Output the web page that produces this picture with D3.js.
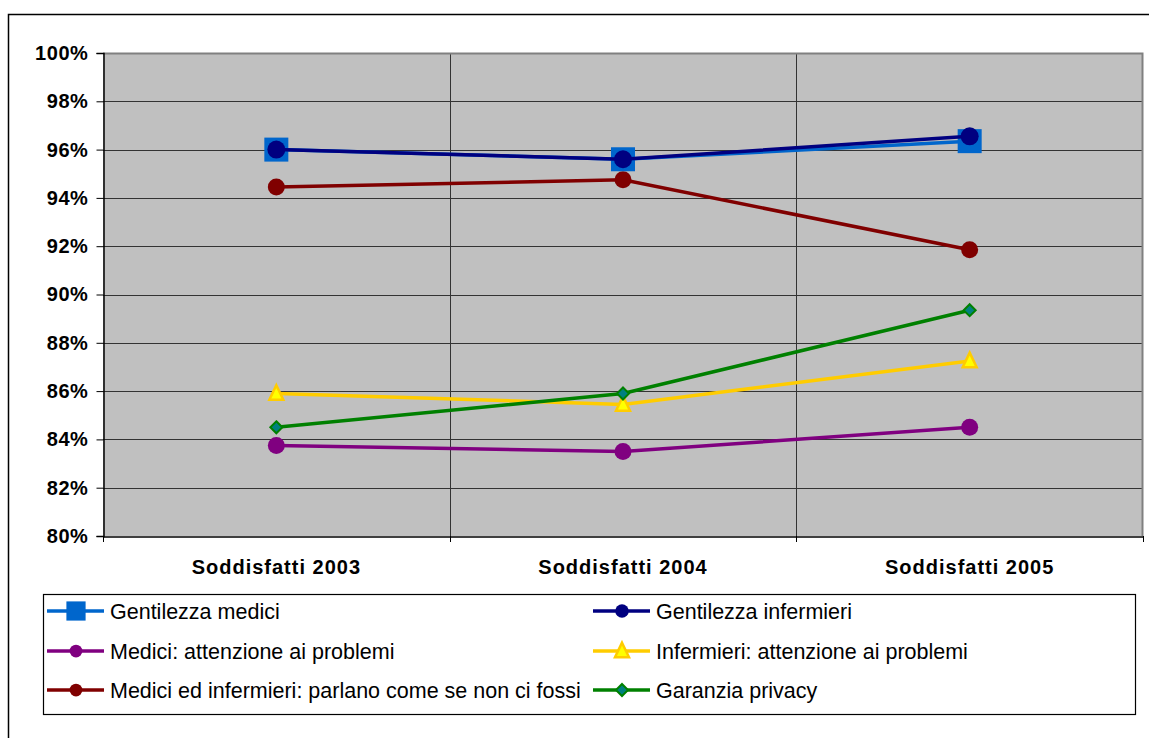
<!DOCTYPE html>
<html>
<head>
<meta charset="utf-8">
<script src="https://cdn.jsdelivr.net/npm/d3@7"></script>
<style>
  body { margin: 0; background: #fff; }
  svg text { font-family: "Liberation Sans", Arial, sans-serif; }
</style>
</head>
<body>
<div id="chart"></div>
<script>
// categories and values (percent)
var categories = ["Soddisfatti 2003", "Soddisfatti 2004", "Soddisfatti 2005"];
var yTicks = [80, 82, 84, 86, 88, 90, 92, 94, 96, 98, 100];

var gentilezzaMedici = [96.0, 95.6, 96.35];
var gentilezzaInfermieri = [96.0, 95.6, 96.55];
var mediciAttenzione = [83.75, 83.5, 84.5];
var infermieriAttenzione = [85.9, 85.45, 87.25];
var mediciInfermieriParlano = [94.45, 94.75, 91.85];
var garanziaPrivacy = [84.5, 85.9, 89.35];

var seriesNames = [
  "Gentilezza medici", "Gentilezza infermieri",
  "Medici: attenzione ai problemi", "Infermieri: attenzione ai problemi",
  "Medici ed infermieri: parlano come se non ci fossi", "Garanzia privacy"
];

var series = [
  {name: seriesNames[0], values: gentilezzaMedici, color: "#0066CC", marker: "square", fill: "#0066CC", stroke: "#0066CC", size: 24},
  {name: seriesNames[1], values: gentilezzaInfermieri, color: "#000080", marker: "circle", fill: "#000080", stroke: "#000080", size: 18},
  {name: seriesNames[2], values: mediciAttenzione, color: "#800080", marker: "circle", fill: "#800080", stroke: "#800080", size: 17},
  {name: seriesNames[3], values: infermieriAttenzione, color: "#FFCC00", marker: "triangle", fill: "#FFFF00", stroke: "#FFCC00", size: 14},
  {name: seriesNames[4], values: mediciInfermieriParlano, color: "#800000", marker: "circle", fill: "#800000", stroke: "#800000", size: 17},
  {name: seriesNames[5], values: garanziaPrivacy, color: "#008000", marker: "diamond", fill: "#008080", stroke: "#008000", size: 12}
];

// drawing order: back to front like the original
var drawOrder = [2, 3, 5, 4, 0, 1];

var width = 1149, height = 738;
var plot = {left: 103, top: 53, right: 1143, bottom: 536};

var svg = d3.select("#chart").append("svg")
  .attr("width", width)
  .attr("height", height);

// outer chart border (top and left only visible)
svg.append("path")
  .attr("d", "M8.5," + height + "V14.5H" + width)
  .attr("fill", "none")
  .attr("stroke", "#000")
  .attr("stroke-width", 1.5);

var x = d3.scaleBand().domain(categories).range([plot.left, plot.right]);
var y = d3.scaleLinear().domain([80, 100]).range([plot.bottom, plot.top]);

// plot background
svg.append("rect")
  .attr("x", plot.left).attr("y", plot.top)
  .attr("width", plot.right - plot.left).attr("height", plot.bottom - plot.top)
  .attr("fill", "#C0C0C0");

// horizontal gridlines
svg.append("g").selectAll("line")
  .data(yTicks.slice(1, -1))
  .enter().append("line")
  .attr("x1", plot.left).attr("x2", plot.right)
  .attr("y1", function(d) { return Math.round(y(d)) + 0.5; })
  .attr("y2", function(d) { return Math.round(y(d)) + 0.5; })
  .attr("stroke", "#333").attr("stroke-width", 1);

// vertical gridlines between categories
svg.append("g").selectAll("line")
  .data(categories.slice(1))
  .enter().append("line")
  .attr("x1", function(d) { return Math.round(x(d)) + 0.5; })
  .attr("x2", function(d) { return Math.round(x(d)) + 0.5; })
  .attr("y1", plot.top).attr("y2", plot.bottom)
  .attr("stroke", "#333").attr("stroke-width", 1);

// plot border (top & right grey)
svg.append("path")
  .attr("d", "M" + plot.left + "," + (plot.top + 0.5) + "H" + (plot.right - 0.5) + "V" + plot.bottom)
  .attr("fill", "none")
  .attr("stroke", "#808080")
  .attr("stroke-width", 2);

// y axis
var yAxis = d3.axisLeft(y)
  .tickValues(yTicks)
  .tickSize(7)
  .tickPadding(8)
  .tickFormat(function(d) { return d + "%"; });

var gy = svg.append("g")
  .attr("transform", "translate(" + (plot.left + 0.5) + ",0)")
  .call(yAxis);
gy.select(".domain").attr("stroke", "#000").attr("stroke-width", 1.5);
gy.selectAll(".tick line").attr("stroke", "#000");
gy.selectAll(".tick text")
  .attr("fill", "#000")
  .style("font-size", "20px")
  .style("font-weight", "bold")
  .style("letter-spacing", "0.6px")
  .style("font-family", "'Liberation Sans', Arial, sans-serif");

// x axis
var gx = svg.append("g")
  .attr("transform", "translate(0," + (plot.bottom + 0.5) + ")")
  .call(d3.axisBottom(x).tickSize(0).tickPadding(23));
gx.select(".domain").attr("stroke", "#000").attr("stroke-width", 1.5);
gx.selectAll(".tick text")
  .attr("fill", "#000")
  .style("font-size", "20px")
  .style("font-weight", "bold")
  .style("letter-spacing", "1px")
  .style("font-family", "'Liberation Sans', Arial, sans-serif");

// category boundary ticks
svg.append("g").selectAll("line")
  .data(categories.concat(["end"]))
  .enter().append("line")
  .attr("x1", function(d, i) { return Math.round(i < categories.length ? x(d) : x(categories[categories.length - 1]) + x.bandwidth()) + 0.5; })
  .attr("x2", function(d, i) { return Math.round(i < categories.length ? x(d) : x(categories[categories.length - 1]) + x.bandwidth()) + 0.5; })
  .attr("y1", plot.bottom).attr("y2", plot.bottom + 6)
  .attr("stroke", "#000");

function cx(i) { return x(categories[i]) + x.bandwidth() / 2; }

function drawMarker(g, s, px, py, scale) {
  var sz = s.size * (scale || 1);
  if (s.marker === "square") {
    g.append("rect")
      .attr("x", px - sz / 2).attr("y", py - sz / 2)
      .attr("width", sz).attr("height", sz)
      .attr("fill", s.fill);
  } else if (s.marker === "circle") {
    g.append("circle")
      .attr("cx", px).attr("cy", py).attr("r", sz / 2)
      .attr("fill", s.fill);
  } else if (s.marker === "triangle") {
    var h = sz * 0.9;
    g.append("path")
      .attr("d", "M" + px + "," + (py - h / 2 - 2) + "L" + (px + sz / 2) + "," + (py + h / 2) + "L" + (px - sz / 2) + "," + (py + h / 2) + "Z")
      .attr("fill", s.fill).attr("stroke", s.stroke).attr("stroke-width", 2.5)
      .attr("stroke-linejoin", "miter");
  } else if (s.marker === "diamond") {
    var r = sz / 2;
    g.append("path")
      .attr("d", "M" + px + "," + (py - r) + "L" + (px + r) + "," + py + "L" + px + "," + (py + r) + "L" + (px - r) + "," + py + "Z")
      .attr("fill", s.fill).attr("stroke", s.stroke).attr("stroke-width", 2);
  }
}

var line = d3.line()
  .x(function(d, i) { return cx(i); })
  .y(function(d) { return y(d); });

var linesG = svg.append("g");
drawOrder.forEach(function(k) {
  var s = series[k];
  var g = linesG.append("g");
  g.append("path")
    .datum(s.values)
    .attr("d", line)
    .attr("fill", "none")
    .attr("stroke", s.color)
    .attr("stroke-width", 3.5);
  s.values.forEach(function(v, i) {
    drawMarker(g, s, cx(i), y(v));
  });
});

// legend
var legend = {left: 43, top: 594, right: 1135, bottom: 714};
svg.append("rect")
  .attr("x", legend.left + 0.5).attr("y", legend.top + 0.5)
  .attr("width", legend.right - legend.left).attr("height", legend.bottom - legend.top)
  .attr("fill", "#fff").attr("stroke", "#000").attr("stroke-width", 1.2);

var colX = [47, 593];
var rowY = [611, 651, 690];

series.forEach(function(s, k) {
  var lx = colX[k % 2], ly = rowY[Math.floor(k / 2)];
  var g = svg.append("g");
  g.append("line")
    .attr("x1", lx).attr("x2", lx + 57)
    .attr("y1", ly).attr("y2", ly)
    .attr("stroke", s.color).attr("stroke-width", 3.5);
  var ls = s.marker === "square" ? 0.8 : (s.marker === "circle" ? 0.75 : 1);
  drawMarker(g, s, lx + 29, ly, ls);
  g.append("text")
    .attr("x", lx + 63).attr("y", ly)
    .attr("dy", "0.35em")
    .attr("fill", "#000")
    .style("font-size", "21.5px")
    .text(s.name);
});
</script>
</body>
</html>
